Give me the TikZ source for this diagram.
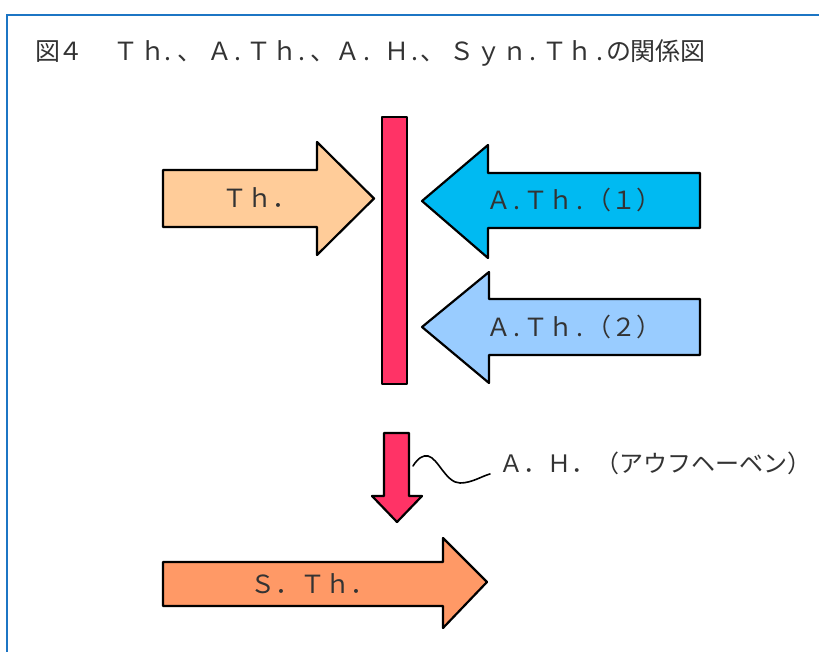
\documentclass[tikz,border=0pt]{standalone}
\usepackage{fontspec}
\setmainfont{Noto Sans CJK JP}
\definecolor{frameblue}{HTML}{1C75C4}
\definecolor{txtgray}{HTML}{333333}
\definecolor{thfill}{HTML}{FFCC99}
\definecolor{athone}{HTML}{00BAF2}
\definecolor{athtwo}{HTML}{99CCFF}
\definecolor{barred}{HTML}{FF3366}
\definecolor{sthfill}{HTML}{FF9966}
\newcommand\tg[2]{\makebox[0pt][c]{#1}\hspace*{#2pt}}
\newcommand\hp{\makebox[12.5pt][c]{.}}
\begin{document}
\begin{tikzpicture}[x=1pt,y=-1pt,
  arrowbox/.style={draw=black,line width=2.2pt,line join=round},
  lbl/.style={inner sep=0pt,anchor=base west,text=txtgray,font=\fontsize{25}{25}\selectfont},
  wave/.style={draw=black,line width=1.6pt,line cap=round}]
\useasboundingbox (0,0) rectangle (819,652);
\fill[white] (0,0) rectangle (819,652);
\draw[frameblue,line width=2.2pt] (7,652) -- (7,15) -- (819,15);
% title
\node[lbl] (title) at (47.5,61) {\tg{図}{23.5}\tg{４}{55}\tg{Ｔ}{26.5}\tg{ｈ}{15.5}\tg{.}{21.5}\tg{、}{30.5}\tg{Ａ}{18}\tg{.}{21}\tg{Ｔ}{26}\tg{ｈ}{17}\tg{.}{20.5}\tg{、}{25.5}\tg{Ａ}{19}\tg{.}{30}\tg{Ｈ}{18}\tg{.}{17.5}\tg{、}{29.5}\tg{Ｓ}{27}\tg{ｙ}{26}\tg{ｎ}{18}\tg{.}{22}\tg{Ｔ}{25}\tg{ｈ}{20}\tg{.}{18.5}\tg{の}{24.5}\tg{関}{24.5}\tg{係}{25}\tg{図}{0}};
% Th. arrow
\path[arrowbox,fill=thfill] (163,170) -- (317,170) -- (317,142) -- (374,198.5) -- (317,255) -- (317,227) -- (163,227) -- cycle;
\node[lbl] (th) at (222,208) {Ｔｈ．};
% bar
\path[arrowbox,fill=barred] (382,117) rectangle (407,384);
% A.Th.(1)
\path[arrowbox,fill=athone] (700,173) -- (488,173) -- (488,145) -- (422,201) -- (488,258) -- (488,228) -- (700,228) -- cycle;
\node[lbl] (ath1) at (486,210) {Ａ\hp Ｔｈ\hp （１）};
% A.Th.(2)
\path[arrowbox,fill=athtwo] (700,299) -- (489,299) -- (489,272) -- (422,327) -- (489,383) -- (489,355) -- (700,355) -- cycle;
\node[lbl] (ath2) at (486,336) {Ａ\hp Ｔｈ\hp （２）};
% down arrow A.H.
\path[arrowbox,fill=barred] (384,433) -- (409,433) -- (409,496) -- (422,496) -- (397,522) -- (372,496) -- (384,496) -- cycle;
\node[lbl,font=\fontsize{24}{24}\selectfont] (ah) at (499,472) {Ａ．Ｈ．（アウフヘーベン）};
\coordinate (wS) at (413,466);
\coordinate (wE) at (490,474);
\draw[wave] (wS) .. controls (418,458) and (423,455) .. (428,456) .. controls (438,458) and (446,483) .. (460,483) .. controls (472,483) and (482,476) .. (wE);
% S.Th. arrow
\path[arrowbox,fill=sthfill] (163,562) -- (443,562) -- (443,538) -- (487,582) -- (443,628) -- (443,606) -- (163,606) -- cycle;
\node[lbl] (sth) at (250,593) {Ｓ．Ｔｈ．};
\end{tikzpicture}
\end{document}
